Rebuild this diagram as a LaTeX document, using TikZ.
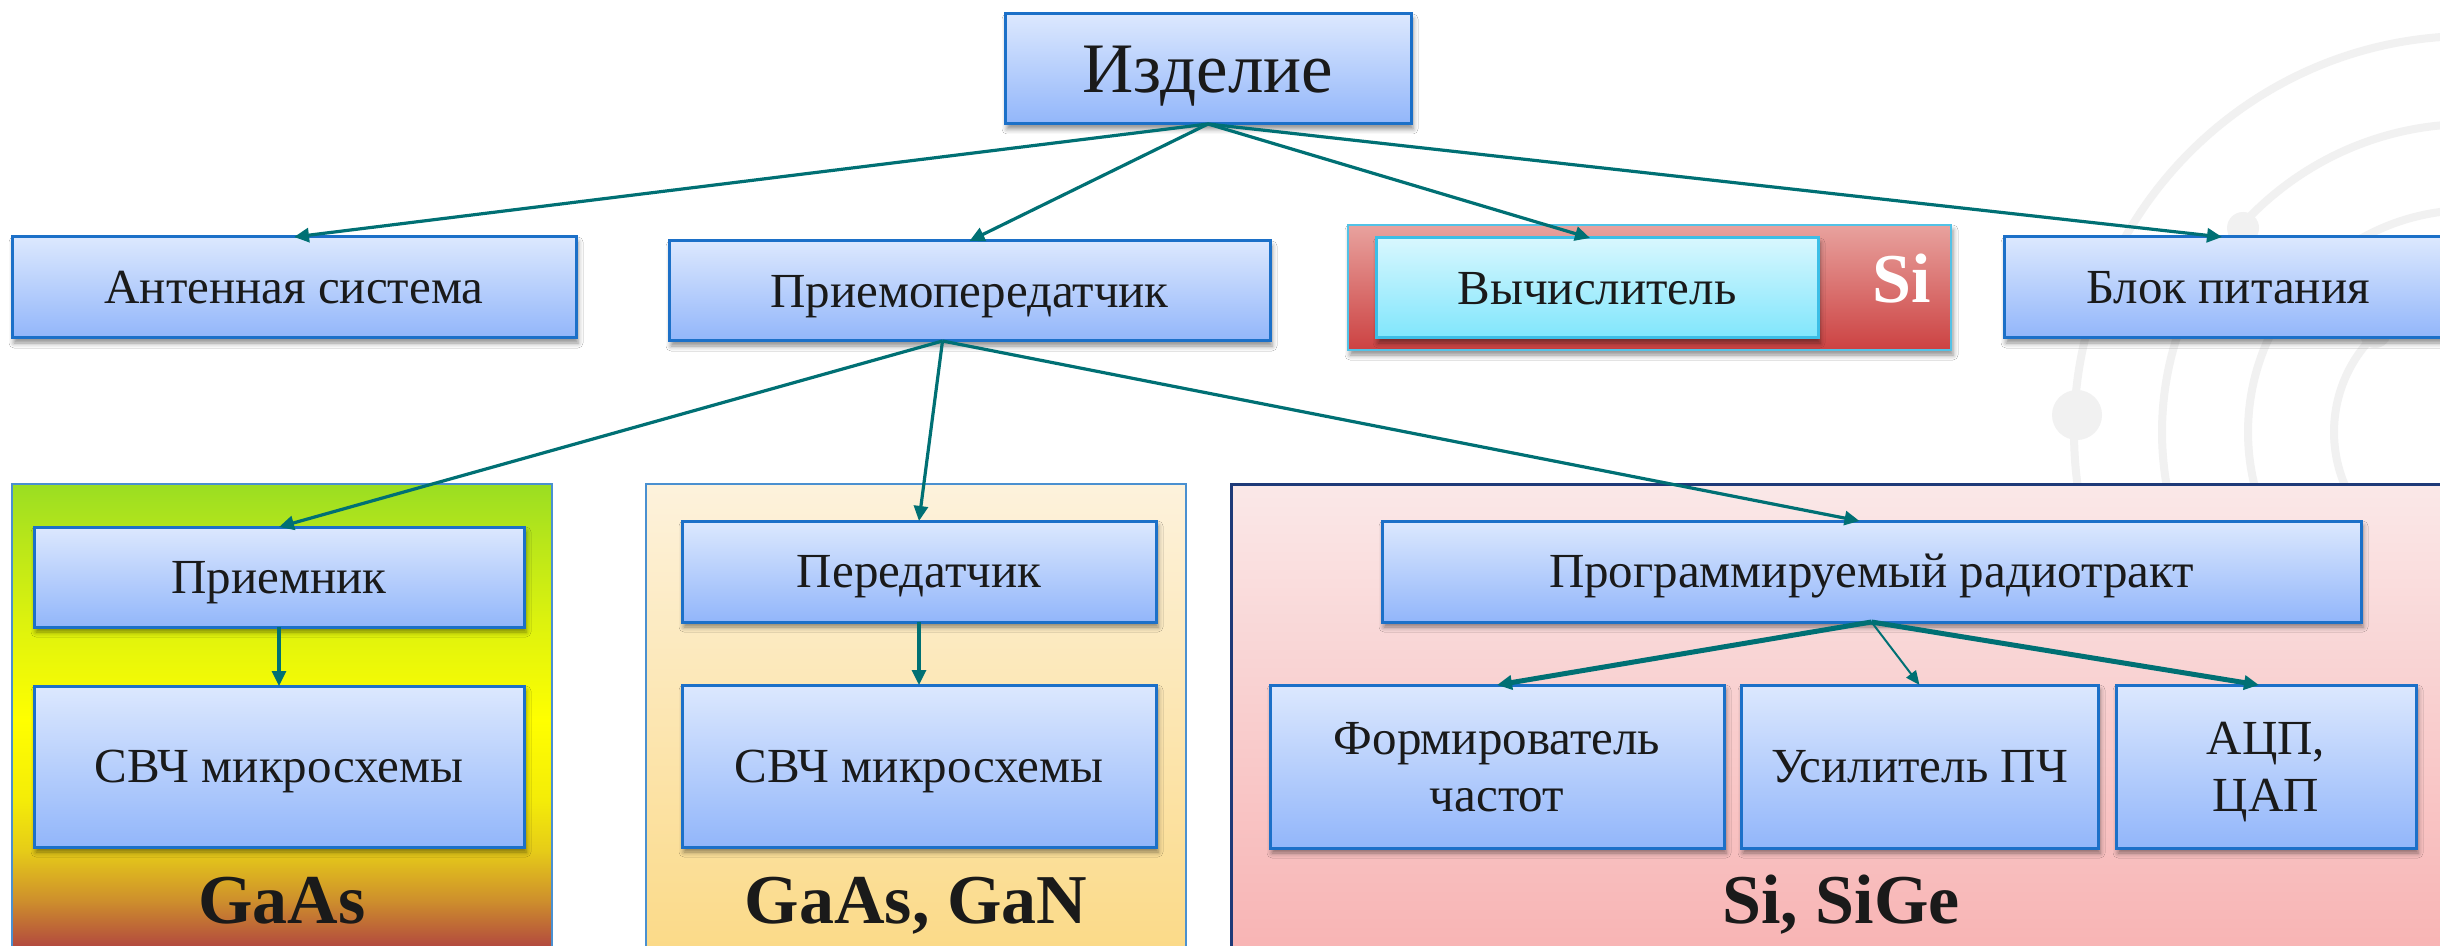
\documentclass[tikz,border=0pt]{standalone}
\usepackage{fontspec}
\setmainfont{Liberation Serif}
\usetikzlibrary{arrows.meta,shadows.blur}

% palette
\definecolor{boxtop}{HTML}{DCE8FE}
\definecolor{boxbot}{HTML}{92B6FA}
\definecolor{boxline}{HTML}{1C70C8}
\definecolor{cyantop}{HTML}{D8F7FE}
\definecolor{cyanbot}{HTML}{80E6FC}
\definecolor{cyanline}{HTML}{3CBEE6}
\definecolor{redtop}{HTML}{E8A29E}
\definecolor{redbot}{HTML}{CC4242}
\definecolor{redline}{HTML}{52C2E6}
\definecolor{linkcol}{HTML}{007074}
\definecolor{paneledge}{HTML}{4A90D0}
\definecolor{navyedge}{HTML}{1E3A78}
\definecolor{creamtop}{HTML}{FDF2DC}
\definecolor{creambot}{HTML}{FBDA88}
\definecolor{pinktop}{HTML}{FAE8E8}
\definecolor{pinkbot}{HTML}{F8B4B4}
\definecolor{arcgray}{HTML}{F1F1F1}
\definecolor{ink}{HTML}{1A1A1A}
% GaAs panel gradient stops
\definecolor{gaG}{HTML}{9ADE22}
\definecolor{gaA}{HTML}{B8E61A}
\definecolor{gaB}{HTML}{DCF20E}
\definecolor{gaY}{HTML}{FFFF00}
\definecolor{gaC}{HTML}{F4EC08}
\definecolor{gaD}{HTML}{E6CC18}
\definecolor{gaE}{HTML}{CE902C}
\definecolor{gaF}{HTML}{B04440}

\pgfdeclareverticalshading{gaasfill}{100bp}{%
  color(0bp)=(gaF); color(25bp)=(gaF); color(30.4bp)=(gaE);
  color(35.7bp)=(gaD); color(41.1bp)=(gaC); color(49.7bp)=(gaY);
  color(60.4bp)=(gaB); color(69bp)=(gaA); color(75bp)=(gaG);
  color(100bp)=(gaG)}

\tikzset{
  boxshadow/.style={blur shadow={shadow xshift=1pt, shadow yshift=-2.5pt,
      shadow blur radius=2.5pt, shadow opacity=45}},
  blockbox/.style={draw=boxline, line width=1.5pt, top color=boxtop,
      bottom color=boxbot, inner sep=0pt, outer sep=0pt, text=ink,
      font=\fontsize{24.5}{28.5}\selectfont, align=center,
      text height=16.2pt, text depth=0pt, boxshadow},
  twoline/.style={text height=44.7pt, text depth=0pt},
  compbox/.style={blockbox, draw=cyanline, top color=cyantop, bottom color=cyanbot},
  sibox/.style={draw=redline, line width=1.2pt, top color=redtop,
      bottom color=redbot, inner sep=0pt, outer sep=0pt, boxshadow},
  panel/.style={inner sep=0pt, outer sep=0pt, line width=1.2pt},
  matlabel/.style={font=\fontsize{35}{40}\selectfont\bfseries, text=ink,
      anchor=base, inner sep=0pt},
  link/.style={draw=linkcol, line width=1.6pt, -{Triangle[length=7.5pt,width=7pt]}},
  linkthick/.style={link, line width=2.5pt, -{Triangle[length=7.5pt,width=7pt]}},
  linkthin/.style={link, line width=1pt, -{Triangle[length=7pt,width=6pt]}},
  arcline/.style={draw=arcgray, line width=4pt},
}

\begin{document}
\begin{tikzpicture}[x=0.5pt,y=-0.5pt]
\useasboundingbox (0,0) rectangle (2440,946);
\clip (0,0) rectangle (2440,946);
\fill[white] (0,0) rectangle (2440,946);

% decorative rings in the upper right corner
\draw[arcline] (2470,432) circle[radius=198pt];
\draw[arcline] (2470,432) circle[radius=154pt];
\draw[arcline] (2470,432) circle[radius=111pt];
\draw[arcline] (2470,432) circle[radius=68pt];
\fill[arcgray] (2077,415) circle[radius=12.5pt];
\fill[arcgray] (2243,228) circle[radius=8pt];
\fill[arcgray] (2375,332) circle[radius=8pt];

% material panels
\node[panel, draw=paneledge, shade, shading=gaasfill,
      minimum width=270pt, minimum height=233pt] (pgaas) at (282,717) {};
\node[panel, draw=paneledge, top color=creamtop, bottom color=creambot,
      minimum width=270pt, minimum height=233pt] (pgan) at (916,717) {};
\node[panel, draw=navyedge, line width=1.5pt, top color=pinktop, bottom color=pinkbot,
      minimum width=614.5pt, minimum height=233pt] (psige) at (1845.5,717) {};

\node[matlabel] (lgaas) at (282,923) {GaAs};
\node[matlabel] (lgan) at (916,923) {GaAs, GaN};
\node[matlabel] (lsige) at (1841,923) {Si, SiGe};

% top level
\node[blockbox, font=\fontsize{35.5}{40}\selectfont, text height=23.5pt,
      minimum width=203pt, minimum height=55pt] (izd) at (1208,69) {Изделие};

% second level
\node[blockbox, minimum width=282pt, minimum height=50.5pt] (ant) at (294,287.5) {Антенная система};
\node[blockbox, minimum width=300.5pt, minimum height=50pt] (pp) at (969.5,291) {Приемопередатчик};
\node[sibox, minimum width=301.5pt, minimum height=62.5pt] (sibg) at (1649.5,287.5) {};
\node[compbox, minimum width=221pt, minimum height=50pt] (vych) at (1597,288) {Вычислитель};
\node[matlabel, text=white] (silab) at (1902,303) {Si};
\node[blockbox, minimum width=224pt, minimum height=50.5pt] (blok) at (2228,287.5) {Блок питания};

% GaAs column
\node[blockbox, minimum width=245pt, minimum height=50pt] (priem) at (279,577) {Приемник};
\node[blockbox, minimum width=245pt, minimum height=80.5pt] (svch1) at (279,766.5) {СВЧ микросхемы};

% GaAs, GaN column
\node[blockbox, minimum width=237pt, minimum height=50.5pt] (pered) at (919,571.5) {Передатчик};
\node[blockbox, minimum width=237pt, minimum height=81pt] (svch2) at (919,766) {СВЧ микросхемы};

% Si, SiGe column
\node[blockbox, minimum width=489.5pt, minimum height=50.5pt] (prog) at (1871.5,571.5) {Программируемый радиотракт};
\node[blockbox, twoline, minimum width=227pt, minimum height=81.5pt] (form) at (1497,766.5) {Формирователь\\частот};
\node[blockbox, minimum width=178.5pt, minimum height=81.5pt] (usil) at (1919.5,766.5) {Усилитель ПЧ};
\node[blockbox, twoline, minimum width=150pt, minimum height=81.5pt] (acp) at (2266,766.5) {АЦП,\\ЦАП};

% connectors
\draw[link] (izd.south) -- (ant.north);
\draw[link] (izd.south) -- (pp.north);
\draw[link] (izd.south) -- ([xshift=-3.5pt]vych.north);
\draw[link] (izd.south) -- ([xshift=-3pt]blok.north);

\coordinate (ppout) at ([xshift=-13.5pt]pp.south);
\draw[link] (ppout) -- (priem.north);
\draw[link] (ppout) -- (pered.north);
\draw[link] (ppout) -- ([xshift=-6pt]prog.north);

\draw[link] (priem.south) -- (svch1.north);
\draw[link] (pered.south) -- (svch2.north);

\draw[linkthick] (prog.south) -- (form.north);
\draw[linkthin] (prog.south) -- (usil.north);
\draw[linkthick] (prog.south) -- ([xshift=-3.5pt]acp.north);
\end{tikzpicture}
\end{document}
